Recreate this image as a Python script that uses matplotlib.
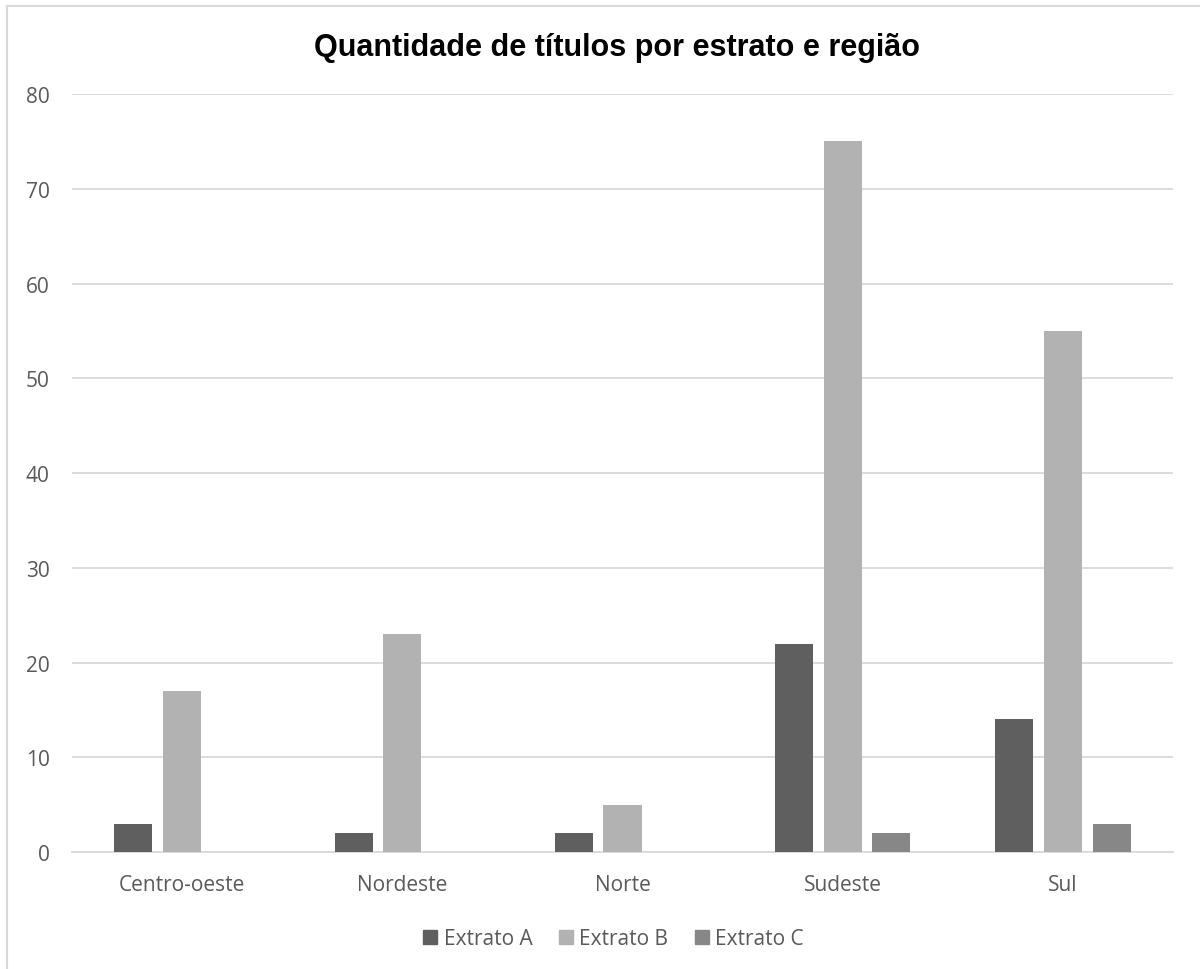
import matplotlib.pyplot as plt
import numpy as np
from matplotlib.lines import Line2D

regioes = ["Centro-oeste", "Nordeste", "Norte", "Sudeste", "Sul"]
extrato_a = [3, 2, 2, 22, 14]
extrato_b = [17, 23, 5, 75, 55]
extrato_c = [0, 0, 0, 2, 3]
series = ["Extrato A", "Extrato B", "Extrato C"]
cores = ["#5f5f5f", "#b2b2b2", "#878787"]

texto = "#595959"
grade = "#d9d9d9"

fig = plt.figure(figsize=(12, 9.7), dpi=100)
ax = fig.add_axes([0.06, 0.1206, 0.9175, 0.7814])

x = np.arange(len(regioes))
largura = 0.173
passo = 0.221
for i, (vals, nome, cor) in enumerate(zip([extrato_a, extrato_b, extrato_c], series, cores)):
    ax.bar(x + (i - 1) * passo, vals, width=largura, color=cor, label=nome, zorder=3)

ax.set_xlim(-0.5, len(regioes) - 0.5)
ax.set_ylim(0, 80)
ax.set_yticks(range(0, 81, 10))
ax.set_xticks(x)
ax.set_xticklabels(regioes)
ax.grid(axis="y", color=grade, linewidth=1.3, zorder=0)
for s in ["top", "right", "left"]:
    ax.spines[s].set_visible(False)
ax.spines["bottom"].set_color(grade)
ax.spines["bottom"].set_linewidth(1.3)
ax.tick_params(length=0, colors=texto, labelsize=15)
ax.tick_params(axis="x", pad=16)
ax.tick_params(axis="y", pad=16)
for lab in ax.get_xticklabels() + ax.get_yticklabels():
    lab.set_fontfamily("Open Sans")

fig.text(0.514, 0.951, "Quantidade de títulos por estrato e região",
         ha="center", va="center", fontsize=22, fontweight="bold",
         family="Liberation Sans", color="black")

handles = [Line2D([], [], marker="s", linestyle="", markersize=10,
                  markerfacecolor=c, markeredgecolor=c) for c in cores]
fig.legend(handles, series, loc="center", bbox_to_anchor=(0.509, 0.031),
           ncol=3, frameon=False, handletextpad=0.05, columnspacing=1.0,
           handlelength=1.2, prop={"family": "Open Sans", "size": 15},
           labelcolor=texto)

# moldura do gráfico (só topo e esquerda aparecem)
fig.add_artist(Line2D([7 / 1200, 1.0], [1 - 7 / 970, 1 - 7 / 970],
                      transform=fig.transFigure, color=grade, linewidth=1.5))
fig.add_artist(Line2D([7 / 1200, 7 / 1200], [0, 1 - 7 / 970],
                      transform=fig.transFigure, color=grade, linewidth=1.5))

fig.savefig("out.png", dpi=100, facecolor="white")
